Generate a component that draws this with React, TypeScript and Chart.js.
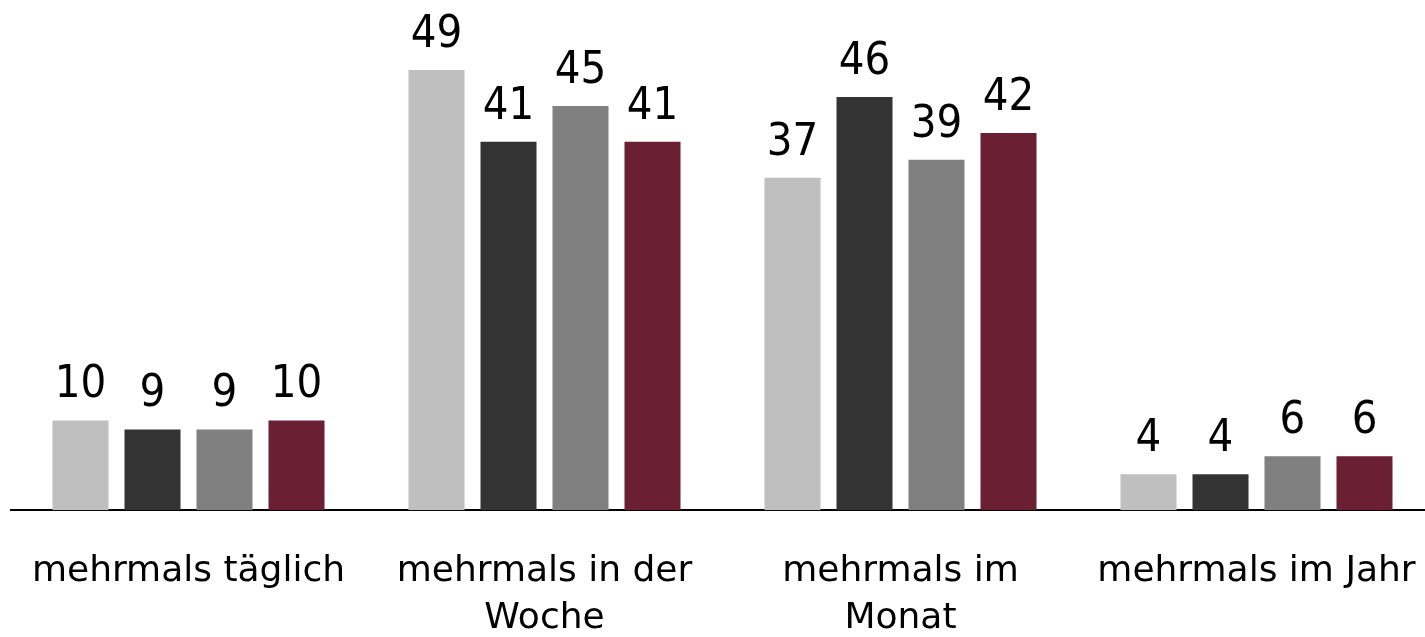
import React, { useEffect, useRef } from "react";
import { Chart, registerables } from "chart.js";

Chart.register(...registerables);

const categories: (string | string[])[] = [
  "mehrmals täglich",
  ["mehrmals in der", "Woche"],
  ["mehrmals im", "Monat"],
  "mehrmals im Jahr",
];
const series1 = [10, 49, 37, 4];
const series2 = [9, 41, 46, 4];
const series3 = [9, 45, 39, 6];
const series4 = [10, 41, 42, 6];
const seriesNames = ["Gruppe 1", "Gruppe 2", "Gruppe 3", "Gruppe 4"];
const seriesColors = ["#BFBFBF", "#333333", "#808080", "#6A1F33"];

const valueLabels = {
  id: "valueLabels",
  afterDatasetsDraw(chart: any) {
    const ctx = chart.ctx;
    ctx.save();
    ctx.font = '45px "DejaVu Sans Condensed", "DejaVu Sans", sans-serif';
    ctx.fillStyle = "#000";
    ctx.textAlign = "center";
    ctx.textBaseline = "alphabetic";
    chart.data.datasets.forEach((ds: any, i: number) => {
      const meta = chart.getDatasetMeta(i);
      meta.data.forEach((bar: any, j: number) => {
        ctx.fillText(String(ds.data[j]), bar.x, bar.y - 23);
      });
    });
    ctx.restore();
  },
};

export default function App() {
  const ref = useRef<HTMLCanvasElement>(null);
  useEffect(() => {
    if (!ref.current) return;
    const data = [series1, series2, series3, series4];
    const chart = new Chart(ref.current, {
      type: "bar",
      data: {
        labels: categories,
        datasets: data.map((d, i) => ({
          label: seriesNames[i],
          data: d,
          backgroundColor: seriesColors[i],
          categoryPercentage: 0.809,
          barPercentage: 0.778,
        })),
      },
      options: {
        animation: false,
        responsive: false,
        devicePixelRatio: 1,
        layout: { padding: { left: 10.5, right: 5.5, top: 61, bottom: 7 } },
        plugins: { legend: { display: false }, tooltip: { enabled: false } },
        scales: {
          x: {
            grid: { display: false, drawTicks: true, tickLength: 37 },
            border: { display: true, color: "#000", width: 2 },
            ticks: {
              color: "#000",
              padding: 0,
              maxRotation: 0,
              autoSkip: false,
              font: { family: '"DejaVu Sans", sans-serif', size: 36, lineHeight: 1.33 },
            },
          },
          y: { display: false, min: 0, max: 50 },
        },
      },
      plugins: [valueLabels],
    });
    return () => chart.destroy();
  }, []);
  return (
    <div style={{ position: "fixed", left: 0, top: 0, width: 1425, height: 637, overflow: "hidden", background: "#fff" }}>
      <canvas ref={ref} width={1440} height={650} style={{ display: "block" }} />
    </div>
  );
}
